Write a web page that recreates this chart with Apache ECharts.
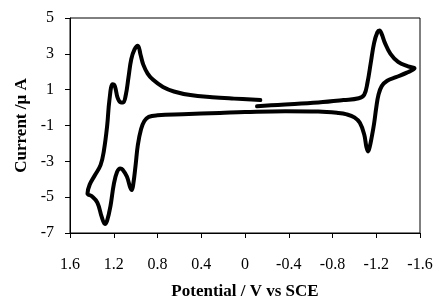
<!DOCTYPE html>
<html>
<head>
<meta charset="utf-8">
<script src="https://cdn.jsdelivr.net/npm/echarts@6/dist/echarts.min.js"></script>
<style>
  html, body { margin: 0; padding: 0; background: #fff; }
  #chart { width: 438px; height: 305px; }
</style>
</head>
<body>
<div id="chart"></div>
<script>
// potential (V vs SCE) and current (uA), in scan order
var potential = [-0.11, -0.3, -0.67, -0.9, -1.04, -1.09, -1.12, -1.15, -1.18, -1.21, -1.23, -1.25, -1.28, -1.33, -1.4, -1.49, -1.55,
  -1.48, -1.38, -1.3, -1.25, -1.22, -1.2, -1.18, -1.16, -1.14, -1.125, -1.11, -1.09, -1.05, -1.0, -0.93, -0.85, -0.67, -0.37, 0, 0.23, 0.57, 0.8, 0.88, 0.92, 0.95, 0.98, 1.0, 1.02, 1.035,
  1.05, 1.08, 1.12, 1.14, 1.17, 1.2, 1.23, 1.26, 1.28, 1.31, 1.35, 1.4, 1.44,
  1.42, 1.37, 1.32, 1.29, 1.26, 1.24, 1.21, 1.19, 1.165, 1.14, 1.115, 1.09, 1.065, 1.04, 1.01, 0.98, 0.955, 0.93, 0.89, 0.84, 0.75, 0.65, 0.5, 0.3, 0.1, -0.14];
var current = [0.07, 0.15, 0.29, 0.42, 0.52, 0.72, 1.4, 2.5, 3.6, 4.2, 4.3, 4.1, 3.6, 3.0, 2.55, 2.3, 2.2,
  1.95, 1.7, 1.5, 1.2, 0.7, 0.0, -0.9, -1.6, -2.2, -2.45, -2.2, -1.5, -0.85, -0.55, -0.38, -0.3, -0.22, -0.2, -0.25, -0.3, -0.37, -0.43, -0.52, -0.75, -1.2, -2.1, -3.2, -4.2, -4.6,
  -4.45, -3.85, -3.45, -3.4, -3.6, -4.3, -5.5, -6.3, -6.5, -6.1, -5.3, -4.95, -4.8,
  -4.3, -3.75, -3.2, -2.4, -1.0, 0.4, 1.3, 1.2, 0.55, 0.3, 0.28, 0.7, 1.7, 2.7, 3.25, 3.45, 2.95, 2.4, 1.9, 1.55, 1.15, 0.9, 0.7, 0.58, 0.5, 0.42];
var xTicks = [1.6, 1.2, 0.8, 0.4, 0, -0.4, -0.8, -1.2, -1.6];
var yTicks = [-7, -5, -3, -1, 1, 3, 5];

var chart = echarts.init(document.getElementById('chart'));
var points = [];
for (var i = 0; i < potential.length; i++) {
  points.push([potential[i], current[i]]);
}
var font = 'Liberation Serif';
var option = {
  animation: false,
  grid: {
    left: 70, right: 18, top: 18, bottom: 68,
    show: true, borderColor: '#000', borderWidth: 1
  },
  xAxis: {
    type: 'value',
    inverse: true,
    min: -1.6, max: 1.6,
    name: 'Potential / V vs SCE',
    nameLocation: 'middle',
    nameGap: 50,
    nameTextStyle: { fontFamily: font, fontWeight: 'bold', fontSize: 17, color: '#000' },
    axisLine: { onZero: false, lineStyle: { color: '#000', width: 1 } },
    axisTick: { customValues: xTicks, length: 5, lineStyle: { color: '#000' } },
    axisLabel: { customValues: xTicks, margin: 24, fontFamily: font, fontSize: 16, color: '#000' },
    splitLine: { show: false }
  },
  yAxis: {
    type: 'value',
    min: -7, max: 5,
    name: 'Current /μ A',
    nameLocation: 'middle',
    nameGap: 40,
    nameTextStyle: { fontFamily: font, fontWeight: 'bold', fontSize: 17, color: '#000' },
    axisLine: { show: true, onZero: false, lineStyle: { color: '#000', width: 1 } },
    axisTick: { show: true, customValues: yTicks, length: 5, lineStyle: { color: '#000' } },
    axisLabel: { customValues: yTicks, margin: 16, fontFamily: font, fontSize: 16, color: '#000' },
    splitLine: { show: false }
  },
  series: [{
    type: 'line',
    data: points,
    smooth: 0.4,
    showSymbol: false,
    lineStyle: { color: '#000', width: 4, cap: 'round', join: 'round' }
  }]
};
chart.setOption(option);
window.addEventListener('resize', function () {
  chart.resize();
});
</script>
</body>
</html>
